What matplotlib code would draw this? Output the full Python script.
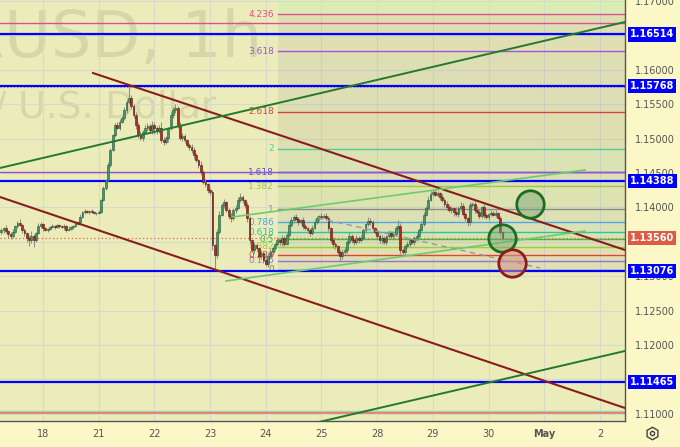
import numpy as np
import matplotlib.pyplot as plt
import matplotlib.transforms as mtransforms

# --- EUR/USD 1h candles, first candle Apr 17 06:00 (x axis = trading days from Apr 18) ---
first_day = -0.75
first_open = 1.13640
closes = [
    # Apr 17 - 18
    1.13672, 1.13701, 1.13657, 1.13613, 1.13584, 1.13642, 1.13730, 1.13773, 1.13744, 1.13672,
    1.13628, 1.13555, 1.13526, 1.13584, 1.13526, 1.13628, 1.13730, 1.13759, 1.13701, 1.13672,
    1.13686, 1.13715, 1.13730, 1.13715, 1.13744, 1.13730, 1.13715, 1.13730, 1.13672, 1.13686,
    1.13715, 1.13730, 1.13759, 1.13788, 1.13861, 1.13933, 1.13948, 1.13933, 1.13948, 1.13933,
    1.13918, 1.13918, 1.13933,
    # Apr 21 - 22
    1.14108, 1.14282, 1.14398, 1.14616, 1.14834, 1.15052, 1.15198, 1.15154, 1.15241, 1.15300,
    1.15416, 1.15532, 1.15590, 1.15474, 1.15343, 1.15198, 1.15052, 1.15009, 1.15096, 1.15154,
    1.15183, 1.15125, 1.15198, 1.15154, 1.15111, 1.15154, 1.14980, 1.14951, 1.15009, 1.15154,
    1.15343, 1.15416, 1.15445, 1.15198, 1.15009, 1.15038, 1.14980, 1.14907, 1.14878, 1.14834,
    1.14762, 1.14689, 1.14616, 1.14515, 1.14369, 1.14340, 1.14253, 1.14224,
    # Apr 23 - 24
    1.13454, 1.13308, 1.13642, 1.13890, 1.14035, 1.14079, 1.13962, 1.13875, 1.13846, 1.13962,
    1.13991, 1.14108, 1.14151, 1.14108, 1.14035, 1.13846, 1.13526, 1.13381, 1.13454, 1.13410,
    1.13294, 1.13338, 1.13236, 1.13178, 1.13294, 1.13352, 1.13410, 1.13468, 1.13526, 1.13497,
    1.13555, 1.13468, 1.13599, 1.13744,
    # Apr 25 - 28
    1.13817, 1.13861, 1.13832, 1.13788, 1.13817, 1.13730, 1.13701, 1.13672, 1.13628, 1.13701,
    1.13788, 1.13846, 1.13875, 1.13861, 1.13875, 1.13846, 1.13701, 1.13526, 1.13468, 1.13439,
    1.13352, 1.13294, 1.13352, 1.13381, 1.13497, 1.13584, 1.13526, 1.13497, 1.13555, 1.13526,
    1.13555, 1.13672, 1.13759, 1.13802, 1.13788, 1.13701, 1.13642, 1.13584, 1.13526, 1.13555,
    1.13497, 1.13584, 1.13628, 1.13584, 1.13613, 1.13701, 1.13730, 1.13381,
    # Apr 29 - 30
    1.13352, 1.13439, 1.13468, 1.13526, 1.13497, 1.13555, 1.13584, 1.13672, 1.13759, 1.13890,
    1.13991, 1.14108, 1.14195, 1.14224, 1.14180, 1.14209, 1.14151, 1.14108, 1.14049, 1.14006,
    1.13962, 1.13991, 1.13933, 1.13904, 1.13991, 1.14020, 1.13904, 1.13846, 1.13788, 1.14035,
    1.14049, 1.13962, 1.13933, 1.13875, 1.14006, 1.13890, 1.13861, 1.13904, 1.13918, 1.13890,
    1.13918, 1.13846, 1.13642, 1.13560,
]
# wick lengths in pips above / below the body
wick_up = [
    3, 2, 4, 2, 3, 5, 2, 3, 6, 2, 3, 2, 4, 8, 3, 2, 4, 3, 2, 2, 1, 2, 3, 2,
    2, 1, 2, 3, 2, 4, 2, 2, 3, 2, 4, 2, 3, 2, 2, 3, 1, 2, 3,
    2, 3, 2, 4, 3, 2, 3, 4, 5, 3, 4, 5, 18, 4, 3, 5, 4, 6, 3, 5, 4, 3, 6, 4,
    3, 5, 8, 4, 3, 2, 5, 4, 6, 3, 5, 4, 3, 2, 3, 5, 4, 3, 2, 6, 3, 4, 2, 3,
    3, 2, 4, 6, 3, 5, 2, 3, 4, 3, 5, 4, 6, 3, 2, 4, 3, 2, 5, 3, 2, 4, 3, 2,
    5, 4, 3, 2, 4, 3, 5, 3, 4, 6,
    4, 3, 5, 3, 2, 4, 3, 2, 3, 4, 5, 3, 2, 4, 3, 5, 3, 2, 4, 3, 2, 3, 5, 4,
    3, 6, 3, 2, 4, 3, 5, 3, 2, 6, 4, 3, 2, 5, 3, 4, 3, 2, 4, 3, 5, 3, 8, 4,
    3, 2, 4, 3, 2, 3, 4, 3, 5, 4, 3, 6, 4, 3, 5, 3, 2, 4, 3, 5, 4, 3, 2, 8,
    3, 6, 4, 3, 2, 5, 3, 4, 6, 3, 2, 4, 3, 2, 5, 3, 4, 2, 3, 1,
]
wick_dn = [
    2, 4, 3, 6, 4, 3, 2, 3, 2, 5, 4, 6, 8, 4, 10, 3, 2, 3, 4, 2, 3, 2, 2, 3,
    2, 3, 2, 4, 3, 2, 2, 3, 2, 2, 3, 2, 3, 2, 3, 2, 2, 3, 2,
    2, 2, 3, 2, 3, 2, 3, 2, 3, 2, 3, 4, 3, 5, 4, 6, 5, 3, 4, 3, 5, 4, 6, 9,
    4, 3, 5, 4, 3, 6, 3, 4, 5, 4, 3, 5, 4, 3, 5, 4, 6, 3, 4, 5, 3, 4, 5, 4,
    8, 22, 4, 3, 2, 4, 3, 5, 6, 3, 4, 2, 3, 4, 5, 6, 4, 3, 5, 4, 6, 4, 5, 3,
    4, 3, 5, 4, 3, 4, 6, 3, 2, 3,
    3, 4, 2, 5, 3, 4, 3, 5, 4, 3, 2, 3, 4, 3, 2, 3, 5, 4, 6, 4, 5, 8, 4, 3,
    4, 3, 5, 4, 3, 4, 3, 2, 4, 3, 5, 4, 3, 5, 4, 6, 3, 4, 3, 5, 4, 3, 4, 6,
    4, 5, 3, 4, 3, 5, 4, 3, 2, 3, 2, 3, 2, 3, 2, 3, 4, 3, 4, 5, 3, 4, 6, 3,
    4, 5, 3, 4, 6, 5, 3, 4, 3, 5, 3, 4, 3, 4, 3, 2, 3, 2, 4, 3,
]

day_labels = ['18', '21', '22', '23', '24', '25', '28', '29', '30', 'May', '2']
price_ticks = [1.110, 1.115, 1.120, 1.125, 1.130, 1.135, 1.140, 1.145, 1.150, 1.155,
               1.160, 1.165, 1.170]
hidden_ticks = [1.115, 1.135, 1.165]   # covered by the price boxes

# horizontal levels
blue_levels = [1.16514, 1.15768, 1.14388, 1.13076, 1.11465]
last_price = 1.13560
pink_level = 1.16685
purple_level = 1.14515
high_marker = 1.15745
bottom_levels = [1.11040, 1.11005]

# fibonacci extension
fib_low, fib_high = 1.13095, 1.13972
fib_start = 4.219
fib_levels = [0, 0.146, 0.236, 0.382, 0.5, 0.618, 0.786, 1, 1.382, 1.618, 2, 2.618, 3.618, 4.236]
fib_names = ['0', '0.146', '0.236', '0.382', '0.5', '0.618', '0.786', '1', '1.382', '1.618',
             '2', '2.618', '3.618', '4.236']

# trend lines: (days, prices)
maroon_upper = ([0.898, 10.449], [1.15953, 1.13381])
maroon_lower = ([-0.772, 10.449], [1.14151, 1.11084])
green_upper = ([-0.772, 10.449], [1.14573, 1.16695])
green_lower = ([4.614, 10.449], [1.10817, 1.11913])
chan_upper = ([3.393, 9.731], [1.13860, 1.14544])
chan_lower = ([3.285, 9.731], [1.12930, 1.13657])
dash_line = ([4.937, 8.923], [1.13846, 1.13119])

# target circles
green_circle_x = [8.743, 8.241]
green_circle_y = [1.14049, 1.13562]
red_circle_x = [8.429]
red_circle_y = [1.13192]

# ------------------------------------------------------------------
BG = '#ececbb'
XMIN, XMAX = -0.772, 10.449
YMIN, YMAX = 1.108953, 1.170145

fig = plt.figure(figsize=(6.8, 4.47), dpi=100, facecolor='#fcf7c6')
ax = fig.add_axes([0, 26 / 447, 625 / 680, 421 / 447])
ax.set_facecolor(BG)
ax.set_xlim(XMIN, XMAX)
ax.set_ylim(YMIN, YMAX)

for s in ['top', 'left']:
    ax.spines[s].set_visible(False)
for s in ['right', 'bottom']:
    ax.spines[s].set_color('#555555')
    ax.spines[s].set_linewidth(1.0)

ax.yaxis.tick_right()
ax.set_yticks(price_ticks)
ax.set_yticklabels(['' if any(abs(t - h) < 1e-9 for h in hidden_ticks) else f'{t:.5f}'
                    for t in price_ticks])
ax.set_xticks(range(len(day_labels)))
ax.set_xticklabels(day_labels)
ax.tick_params(axis='both', length=0, labelsize=7, labelcolor='#555555')
ax.tick_params(axis='y', pad=7)
ax.tick_params(axis='x', pad=6)
ax.get_xticklabels()[9].set_fontweight('bold')
ax.grid(True, color='#d6dac8', lw=0.8)
ax.set_axisbelow(True)

# watermark
ax.text(262 / 625, 1 - 57 / 421, 'EURUSD, 1h', transform=ax.transAxes, ha='right',
        va='baseline', fontsize=46, color='#8a8a6a', alpha=0.22, zorder=0.4, clip_on=True)
ax.text(216 / 625, 1 - 118 / 421, 'Euro / U.S. Dollar', transform=ax.transAxes, ha='right',
        va='baseline', fontsize=27, color='#8a8a6a', alpha=0.22, zorder=0.4, clip_on=True)

# fibonacci levels with shaded bands
fib_colors = ['#787b86', '#9c6fd0', '#e0453c', '#a5c83c', '#43b843', '#2cc79a', '#4aa8e8',
              '#8a8c92', '#a0c83c', '#5a4fd8', '#4dd0a0', '#d8443c', '#a255d0', '#e0508a']
fib_prices = [fib_low + lv * (fib_high - fib_low) for lv in fib_levels]
ax.fill_between([fib_start, XMAX], fib_prices[0], fib_prices[-1], color='#90a890',
                alpha=0.12, lw=0, zorder=0.55)
for k in range(len(fib_prices) - 1):
    ax.fill_between([fib_start, XMAX], fib_prices[k], fib_prices[k + 1],
                    color=fib_colors[k + 1], alpha=0.03, lw=0, zorder=0.6)
ax.fill_between([fib_start, XMAX], fib_prices[-1], YMAX, color='#c8ecb0', alpha=0.45,
                lw=0, zorder=0.6)
for p, name, c in zip(fib_prices, fib_names, fib_colors):
    ax.plot([fib_start, XMAX], [p, p], color=c, lw=1.0, zorder=1)
    ax.text(fib_start - 0.07, p, name, ha='right', va='center', fontsize=6.5, color=c, zorder=1)

# full-width horizontal lines
ax.axhline(pink_level, color='#d8509a', lw=1.0, zorder=1.2)
ax.axhline(purple_level, color='#9a50c8', lw=1.0, zorder=1.2)
ax.axhline(bottom_levels[0], color='#a8c8c8', lw=1.0, zorder=1.2)
ax.axhline(bottom_levels[1], color='#e07a5a', lw=1.2, zorder=1.2)
ax.axhline(high_marker, color='#8a8a8a', lw=0.8, ls=(0, (1, 2)), zorder=1.2)
for lv in blue_levels:
    ax.axhline(lv, color='#0000ff', lw=1.6, zorder=2)
ax.axhline(last_price, color='#e06a4a', lw=0.9, ls=(0, (1, 2)), zorder=2.1)

# candles
closes = np.array(closes)
opens = np.concatenate([[first_open], closes[:-1]])
hi = np.maximum(opens, closes) + np.array(wick_up) * 0.0001
lo = np.minimum(opens, closes) - np.array(wick_dn) * 0.0001
days = first_day + np.arange(len(closes)) / 24
up = closes >= opens
ax.vlines(days, lo, hi, color='#8f8f84', lw=0.8, zorder=2.5)
body_h = np.maximum(np.abs(closes - opens), 0.00004)
ax.bar(days[up], body_h[up], bottom=np.minimum(opens, closes)[up], width=0.78 / 24,
       color='#47966a', edgecolor='#1f5a38', lw=0.4, zorder=3)
ax.bar(days[~up], body_h[~up], bottom=np.minimum(opens, closes)[~up], width=0.78 / 24,
       color='#b02a1e', edgecolor='#5c1610', lw=0.4, zorder=3)

# trend lines
ax.plot(*maroon_upper, color='#8b1c1c', lw=1.5, zorder=4)
ax.plot(*maroon_lower, color='#8b1c1c', lw=1.5, zorder=4)
ax.plot(*green_upper, color='#237a2a', lw=1.4, zorder=4)
ax.plot(*green_lower, color='#237a2a', lw=1.4, zorder=4)
ax.plot(*chan_upper, color='#6ccc6c', lw=1.2, zorder=4)
ax.plot(*chan_lower, color='#6ccc6c', lw=1.2, zorder=4)
ax.plot(*dash_line, color='#9a9a9a', lw=1.0, ls=(0, (4, 3)), zorder=4)

# circles
ax.scatter(green_circle_x, green_circle_y, s=390, facecolor=(0.45, 0.64, 0.45, 0.45),
           edgecolor='#1e6b22', lw=2.0, zorder=5)
ax.scatter(red_circle_x, red_circle_y, s=390, facecolor=(0.82, 0.58, 0.52, 0.55),
           edgecolor='#8b1c1c', lw=2.0, zorder=5)

# price boxes on the right scale
ytrans = mtransforms.blended_transform_factory(ax.transAxes, ax.transData)
box_levels = blue_levels + [last_price]
box_colors = ['#0000ff'] * len(blue_levels) + ['#dd5a44']
for lv, c in zip(box_levels, box_colors):
    ax.annotate(f'{lv:.5f}', xy=(1, lv), xycoords=ytrans, xytext=(3.5, 0),
                textcoords='offset points', ha='left', va='center', fontsize=7,
                fontweight='bold', color='white', annotation_clip=False, zorder=6,
                bbox=dict(boxstyle='square,pad=0.22', fc=c, ec='none'))

# settings icon
fig.lines.append(plt.Line2D([652 / 680], [14 / 447], transform=fig.transFigure, marker='h',
                            ms=9, mfc='none', mec='#444444', mew=1.0))
fig.lines.append(plt.Line2D([652 / 680], [14 / 447], transform=fig.transFigure, marker='o',
                            ms=3, mfc='none', mec='#444444', mew=1.0))

fig.savefig('out.png', dpi=100, facecolor=fig.get_facecolor())
